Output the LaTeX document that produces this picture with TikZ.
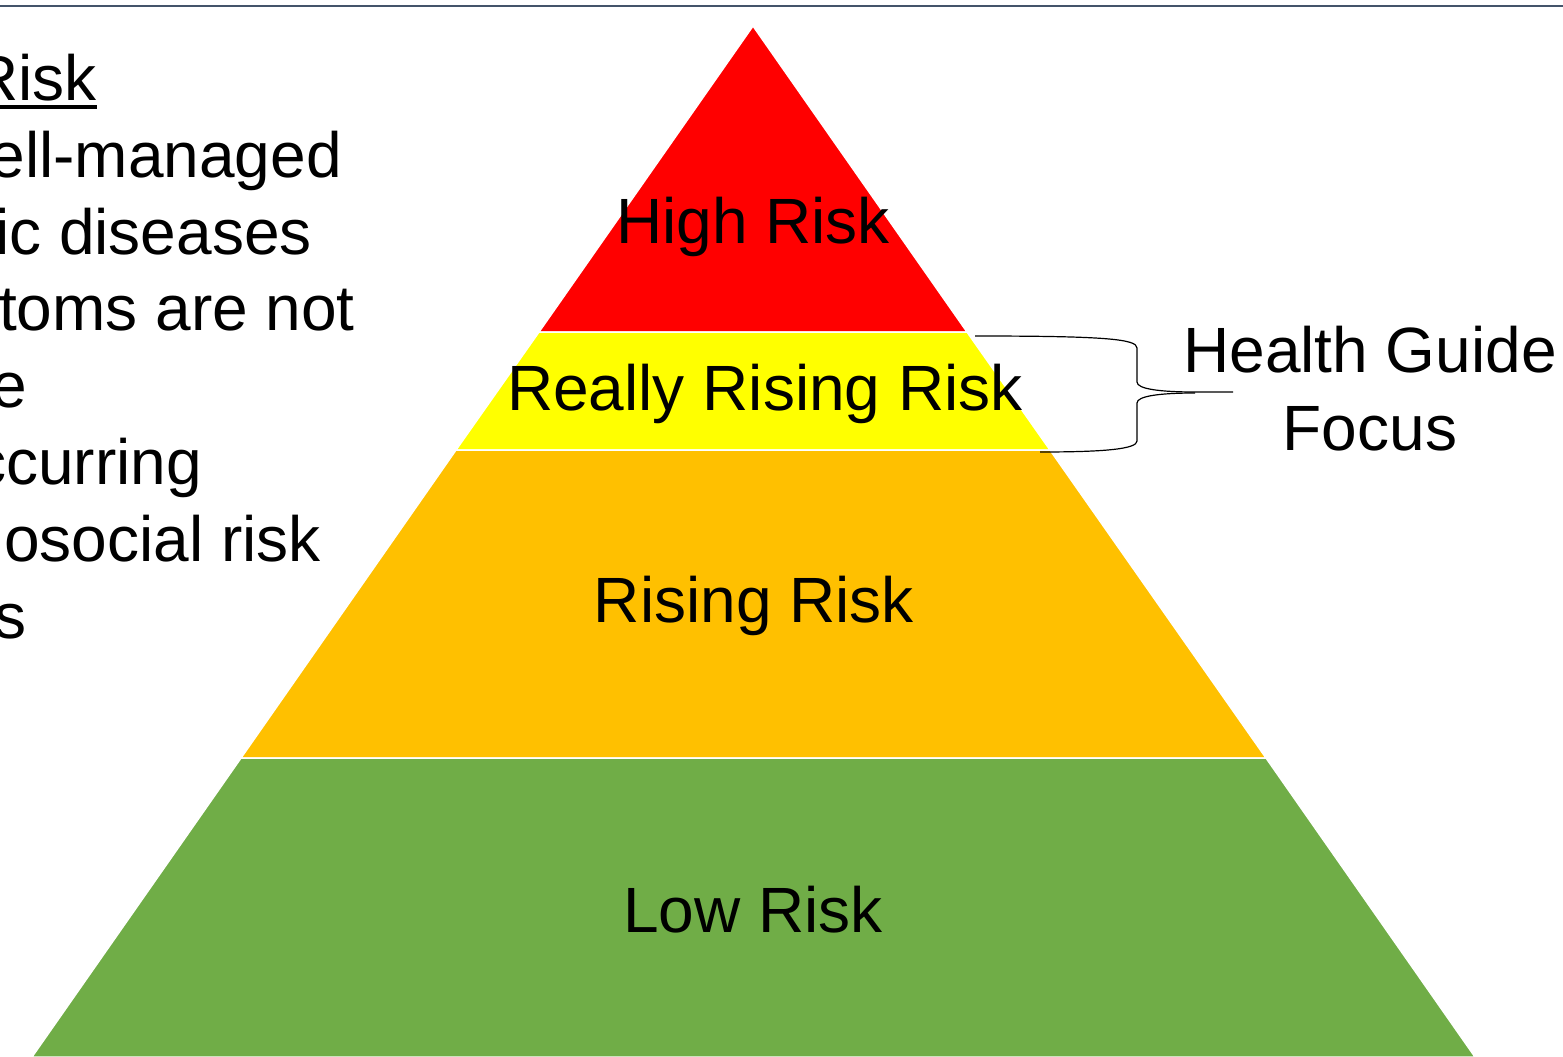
\documentclass[tikz,border=0pt]{standalone}
\usepackage{fontspec}
\setmainfont{Liberation Sans}
\usetikzlibrary{positioning}
\definecolor{slateline}{HTML}{44546A}
\definecolor{riskred}{HTML}{FF0000}
\definecolor{riskyellow}{HTML}{FFFF00}
\definecolor{riskorange}{HTML}{FFC000}
\definecolor{riskgreen}{HTML}{70AD47}
\tikzstyle{band} = [
  draw=white,
  line width=1.5pt
]
\tikzstyle{bandlabel} = [
  font=\fontsize{64}{77}\selectfont,
  inner sep=0,
  anchor=base
]
\tikzstyle{sidetext} = [
  font=\fontsize{64}{77}\selectfont,
  inner sep=0,
  anchor=base east
]
\tikzstyle{bracket} = [
  black,
  line width=1.2pt
]

\begin{document}
\begin{tikzpicture}[x=1pt,y=-1pt]
      \useasboundingbox (0,0) rectangle (1563,1057);
      \draw [slateline, line width=2.2pt] (0,6) -- (1563,6);

      % pyramid bands
      \filldraw [band, fill=riskred] (753,26) -- (967,332) -- (539,332) -- cycle;
      \filldraw [band, fill=riskyellow] (539,332) -- (967,332) -- (1050,450) -- (456,450) -- cycle;
      \filldraw [band, fill=riskorange] (456,450) -- (1050,450) -- (1266,758) -- (241,758) -- cycle;
      \filldraw [band, fill=riskgreen] (241,758) -- (1266,758) -- (1475,1057) -- (32,1057) -- cycle;

      \node [bandlabel] (high) at (753,243) {High Risk};
      \node [bandlabel] (reallyrising) at (765,410) {Really Rising Risk};
      \node [bandlabel] (rising) at (754,622) {Rising Risk};
      \node [bandlabel] (low) at (753,932) {Low Risk};

      % left text, cut at the page edge
      \node [sidetext] (riskhead) at (97,100) {Risk};
      \draw [line width=4pt] ([yshift=-7pt]riskhead.base west) -- ([yshift=-7pt]riskhead.base east);
      \node [sidetext] (lineb) at (342,177) {ell-managed};
      \node [sidetext] (linec) at (312,254) {ic diseases};
      \node [sidetext] (lined) at (355,330) {toms are not};
      \node [sidetext] (linee) at (27,407) {e};
      \node [sidetext] (linef) at (202,484) {ccurring};
      \node [sidetext] (lineg) at (321,561) {hosocial risk};
      \node [sidetext] (lineh) at (27,638) {s};

      % brace
      \coordinate (bracetop) at (975,336);
      \coordinate (bracebot) at (1040,452);
      \coordinate (bracetip) at (1233,392);
      \draw [bracket] (bracetop) .. controls (1105,336) and (1137,339) .. (1137,348) -- (1137,382)
        .. controls (1137,389) and (1160,392) .. (1195,392) -- (bracetip);
      \draw [bracket] (1195,393) .. controls (1160,393) and (1137,396) .. (1137,403) -- (1137,441)
        .. controls (1137,449) and (1105,452) .. (bracebot);

      \node [bandlabel] (focus) at (1370,372) {Health Guide};
      \node [bandlabel, below=78pt of focus.base, anchor=base] (focusb) {Focus};

    \end{tikzpicture}
\end{document}
